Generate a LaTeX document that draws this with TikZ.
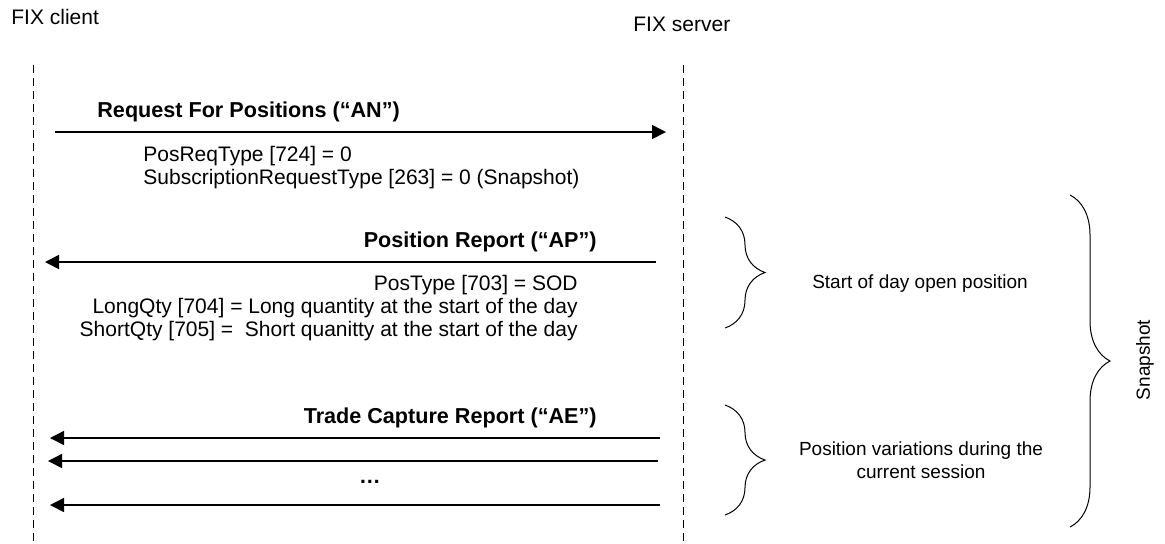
\documentclass[tikz,border=0pt]{standalone}
\usepackage{fontspec}
\setmainfont{Liberation Sans}
\usetikzlibrary{arrows.meta,decorations.pathreplacing}

\begin{document}
\begin{tikzpicture}[
  x=0.5pt, y=-0.5pt,
  label/.style={inner sep=0pt, font=\fontsize{10.5}{11.6}\selectfont},
  msg/.style={inner sep=0pt, font=\fontsize{10.8}{11.6}\selectfont\bfseries},
  note/.style={inner sep=0pt, font=\fontsize{9.5}{11.5}\selectfont},
  lifeline/.style={line width=0.5pt, dash pattern=on 4pt off 2.5pt},
  msgarrow/.style={line width=0.75pt, -{Triangle[length=7pt,width=7pt]}},
  curly/.style={decorate, decoration={brace, amplitude=20pt}, line width=0.5pt}
]
\useasboundingbox (0,0) rectangle (1165,543);

% participants
\node[label, anchor=west] (client) at (11,17) {FIX client};
\node[label, anchor=west] (server) at (633,24) {FIX server};
\coordinate (clienttop) at (33,65);
\coordinate (clientbot) at (33,543);
\coordinate (servertop) at (683,65);
\coordinate (serverbot) at (683,543);
\draw[lifeline] (clienttop) -- (clientbot);
\draw[lifeline] (servertop) -- (serverbot);

% request
\coordinate (reqs) at (55,132);
\coordinate (reqe) at (666,132);
\draw[msgarrow] (reqs) -- (reqe);
\node[msg, anchor=west] (req) at (97,112) {Request For Positions (“AN”)};
\node[label, anchor=north west, align=left] (reqtags) at (143,146)
  {PosReqType [724] = 0\\SubscriptionRequestType [263] = 0 (Snapshot)};

% position report
\coordinate (reps) at (656,262);
\coordinate (repe) at (45,262);
\draw[msgarrow] (reps) -- (repe);
\node[msg, anchor=east] (rep) at (597,242) {Position Report (“AP”)};
\node[label, anchor=east, align=right] (reptags) at (578,308)
  {PosType [703] = SOD\\LongQty [704] = Long quantity at the start of the day\\ShortQty [705] = \ Short quanitty at the start of the day};

% trade capture reports
\node[msg, anchor=east] (trd) at (597,418) {Trade Capture Report (“AE”)};
\coordinate (trd1s) at (660,438);
\coordinate (trd1e) at (50,438);
\coordinate (trd2s) at (658,461);
\coordinate (trd2e) at (48,461);
\coordinate (trd3s) at (660,505);
\coordinate (trd3e) at (50,505);
\draw[msgarrow] (trd1s) -- (trd1e);
\draw[msgarrow] (trd2s) -- (trd2e);
\draw[msgarrow] (trd3s) -- (trd3e);
\node[msg] (dots) at (370,482) {…};

% braces
\coordinate (sodtop) at (725,217);
\coordinate (sodbot) at (725,328);
\coordinate (vartop) at (725,405);
\coordinate (varbot) at (725,515);
\coordinate (snaptop) at (1070,195);
\coordinate (snapbot) at (1070,527);
\draw[curly] (sodtop) -- (sodbot);
\draw[curly] (vartop) -- (varbot);
\draw[curly] (snaptop) -- (snapbot);
\node[note] (sod) at (920,284) {Start of day open position};
\node[note, align=center] (var) at (921,460) {Position variations during the\\current session};
\node[note, rotate=90] (snap) at (1145,360) {Snapshot};
\end{tikzpicture}
\end{document}
